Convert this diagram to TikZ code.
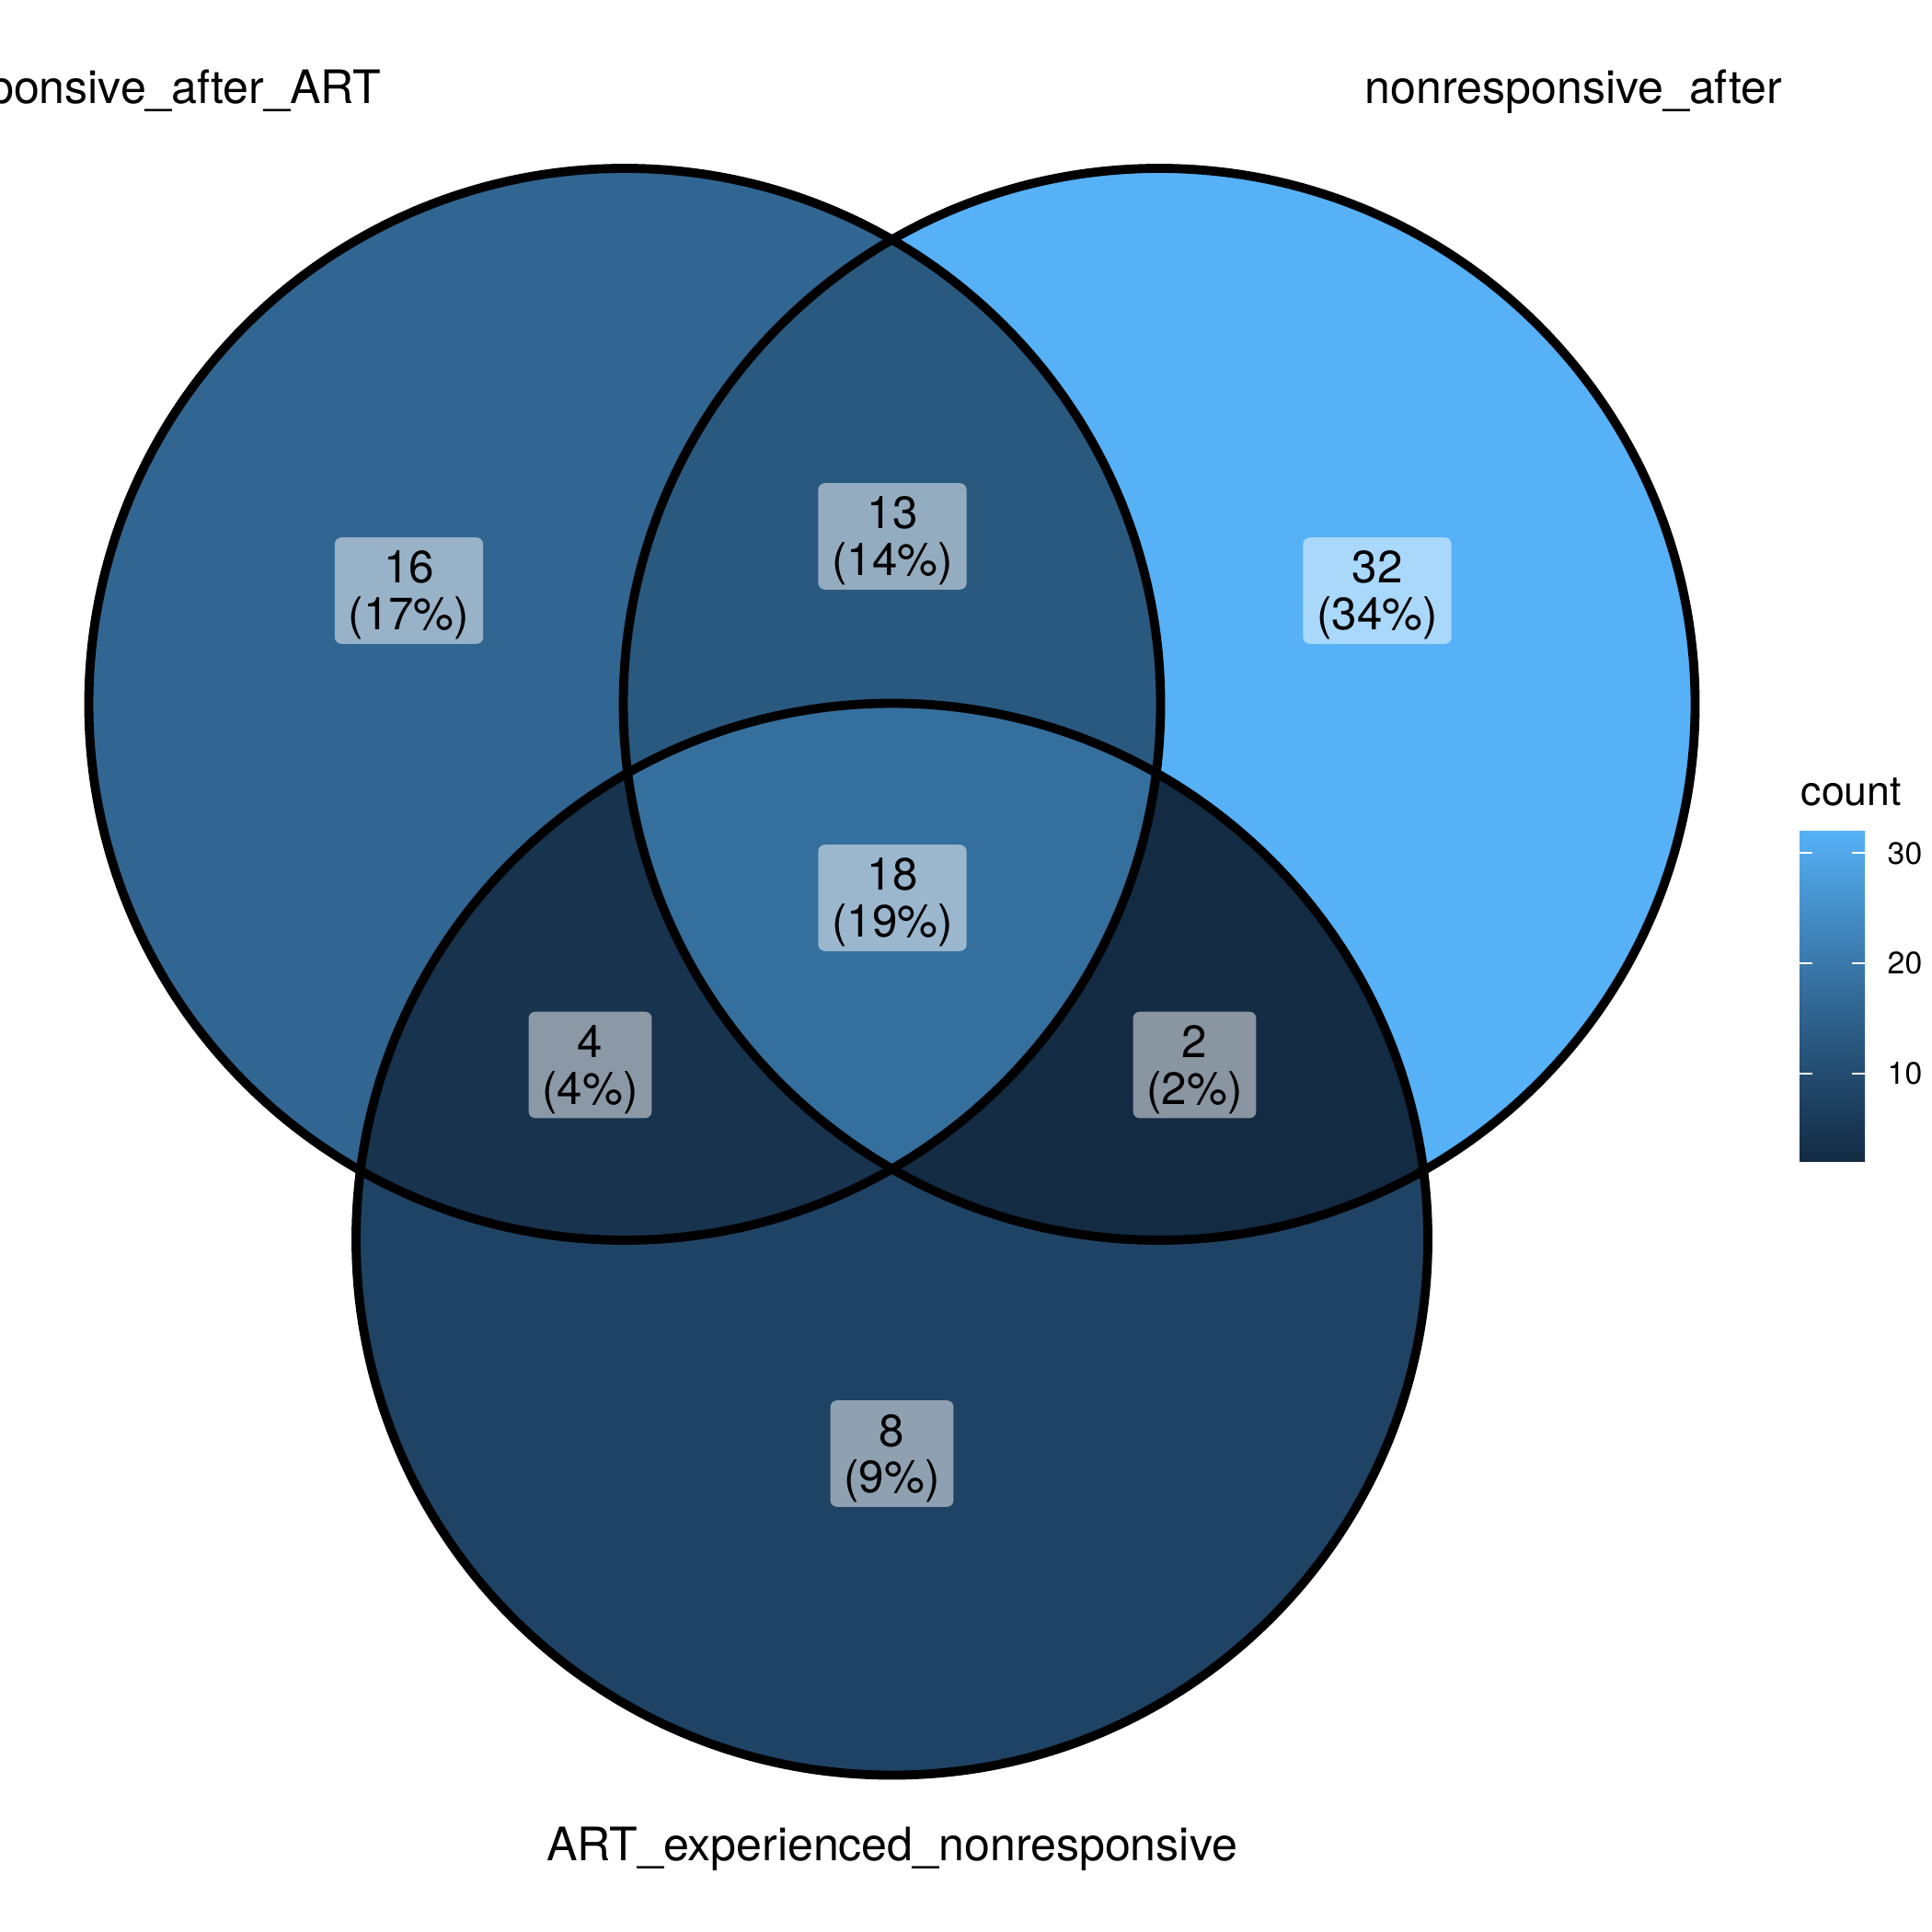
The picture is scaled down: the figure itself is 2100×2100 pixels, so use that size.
\documentclass[tikz,border=0pt]{standalone}
\usepackage{fontspec}
\setmainfont{TeX Gyre Heros}
\usepackage{xcolor}

% fill colours, one per count
\definecolor{cntlo}{HTML}{132B43}
\definecolor{cnthi}{HTML}{56B1F7}
\definecolor{cnt2}{HTML}{132B43}
\definecolor{cnt4}{RGB}{23,51,78}
\definecolor{cnt8}{RGB}{31,67,100}
\definecolor{cnt13}{RGB}{42,89,128}
\definecolor{cnt16}{RGB}{49,102,146}
\definecolor{cnt18}{RGB}{53,111,158}
\definecolor{cnt24}{RGB}{68,141,198}
\definecolor{cnt32}{HTML}{56B1F7}

\pgfdeclareverticalshading{countbar}{100bp}{color(0bp)=(cntlo); color(25bp)=(cntlo); color(35bp)=(cnt8); color(48.35bp)=(cnt16); color(62.5bp)=(cnt24); color(75bp)=(cnthi); color(100bp)=(cnthi)}

\newcommand{\vennr}{582.5}
\newcommand{\vlab}[2]{\raisebox{0pt}[9.9pt][0pt]{#1}\\\raisebox{0pt}[0pt][0pt]{(#2\%)}}

\begin{document}
\begin{tikzpicture}[x=0.01cm,y=-0.01cm,
    vennline/.style={draw=black,line width=2.8pt},
    countbox/.style={fill=white,fill opacity=0.5,text opacity=1,rounded corners=2pt,
        align=center,inner xsep=4.25pt,inner ysep=4.25pt,
        font=\fontsize{14}{14.46}\selectfont},
    setname/.style={inner sep=0pt,font=\fontsize{14.25}{17}\selectfont},
    ticklab/.style={inner sep=0pt,anchor=west,font=\fontsize{9.6}{11}\selectfont},
    tickmark/.style={draw=white,line width=0.5pt}]
    \useasboundingbox (0,0) rectangle (2100,2100);
    \clip (0,0) rectangle (2100,2100);

    \coordinate (cA) at (679,765.5);
    \coordinate (cB) at (1260,765.5);
    \coordinate (cC) at (969.5,1347);

    % regions
    \fill[cnt16] (cA) circle[radius=\vennr];
    \fill[cnt32] (cB) circle[radius=\vennr];
    \fill[cnt8] (cC) circle[radius=\vennr];
    \begin{scope}
        \clip (cA) circle[radius=\vennr];
        \fill[cnt13] (cB) circle[radius=\vennr];
    \end{scope}
    \begin{scope}
        \clip (cA) circle[radius=\vennr];
        \fill[cnt4] (cC) circle[radius=\vennr];
    \end{scope}
    \begin{scope}
        \clip (cB) circle[radius=\vennr];
        \fill[cnt2] (cC) circle[radius=\vennr];
    \end{scope}
    \begin{scope}
        \clip (cA) circle[radius=\vennr];
        \clip (cB) circle[radius=\vennr];
        \fill[cnt18] (cC) circle[radius=\vennr];
    \end{scope}
    \draw[vennline] (cA) circle[radius=\vennr];
    \draw[vennline] (cB) circle[radius=\vennr];
    \draw[vennline] (cC) circle[radius=\vennr];

    % counts
    \node[countbox] (nA) at (444.5,642) {\vlab{16}{17}};
    \node[countbox] (nAB) at (970,583) {\vlab{13}{14}};
    \node[countbox] (nB) at (1497,642) {\vlab{32}{34}};
    \node[countbox] (nABC) at (970,976) {\vlab{18}{19}};
    \node[countbox] (nAC) at (641.5,1157.5) {\vlab{4}{4}};
    \node[countbox] (nBC) at (1298.5,1157.5) {\vlab{2}{2}};
    \node[countbox] (nC) at (969.5,1580) {\vlab{8}{9}};

    % set names
    \node[setname,anchor=base east] (setA) at (415,113) {nonresponsive\_after\_ART};
    \node[setname,anchor=base west] (setB) at (1483,113) {nonresponsive\_after};
    \node[setname,anchor=base] (setC) at (969.5,2022) {ART\_experienced\_nonresponsive};

    % legend
    \node[inner sep=0pt,anchor=base west,font=\fontsize{12.7}{14}\selectfont] (legtitle) at (1957,875) {count};
    \shade[shading=countbar] (1956,903.4) rectangle (2027,1262.5);
    \foreach \yy/\lab in {927.3/30,1047/20,1166.7/10} {
        \draw[tickmark] (1956,\yy) -- (1970,\yy);
        \draw[tickmark] (2013,\yy) -- (2027,\yy);
        \node[ticklab] (tick\lab) at (2051,\yy) {\lab};
    }
\end{tikzpicture}
\end{document}
